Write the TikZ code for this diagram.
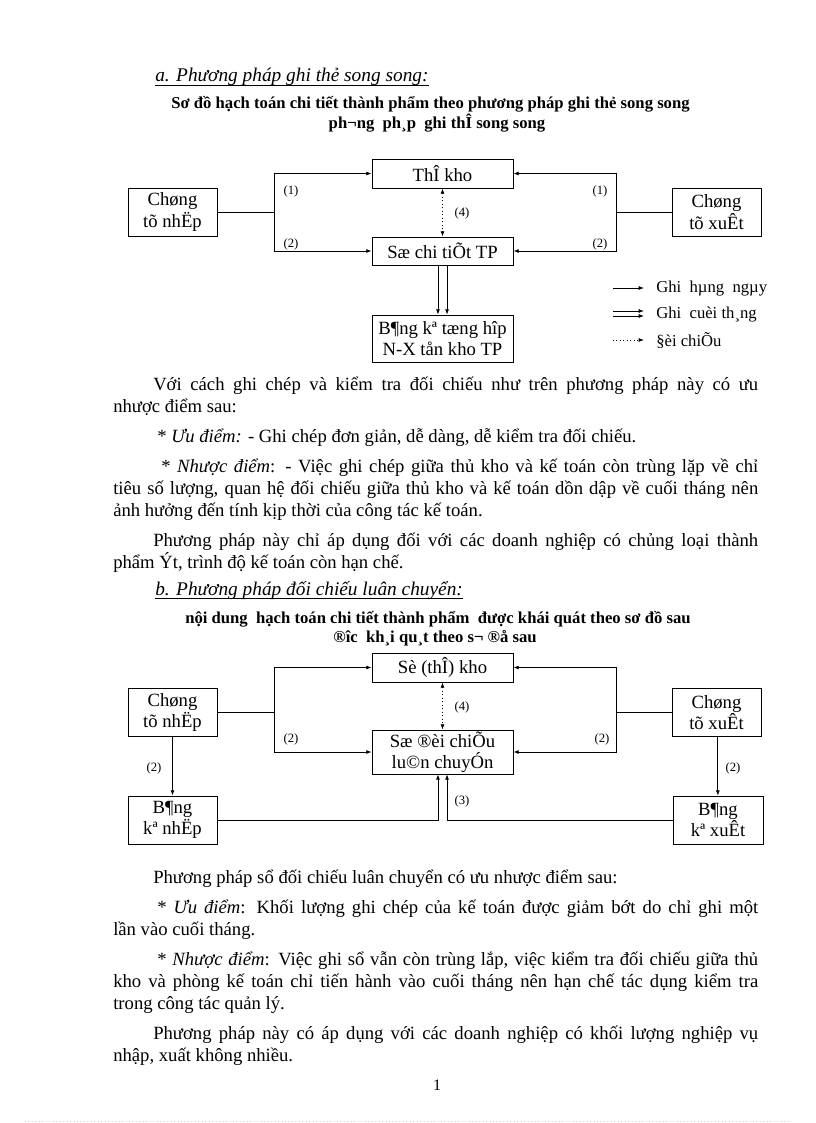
\documentclass[tikz,border=0pt]{standalone}
\usepackage{fontspec}
\setmainfont{Liberation Serif}
\usetikzlibrary{arrows.meta}
\tikzset{
    % boxes of the two schemes
    box/.style={draw, line width=0.6pt, inner sep=0pt, align=center, font=\fontsize{14}{16}\selectfont},
    wbox/.style={box, minimum width=105.75pt},
    sbox/.style={box, minimum width=66.75pt, minimum height=36pt},
    % connectors
    link/.style={line width=0.6pt},
    arr/.style={link, -{Latex[length=4pt, width=3pt]}},
    darr/.style={link, dotted, {Latex[length=4pt, width=3pt]}-{Latex[length=4pt, width=3pt]}},
    dotarr/.style={link, dotted, -{Latex[length=4pt, width=3pt]}},
    num/.style={font=\fontsize{9.5}{11}\selectfont, inner sep=0pt},
    legend/.style={font=\fontsize{12.5}{14}\selectfont, anchor=west, inner sep=0pt},
    % text of the page
    para/.style={anchor=base west, inner sep=0pt, text width=483.75pt, align=justify, font=\fontsize{14}{16.5}\selectfont},
    caption/.style={anchor=base, inner sep=0pt, font=\bfseries\fontsize{12.5}{14}\selectfont},
    heading/.style={anchor=base west, inner sep=0pt, font=\itshape\fontsize{14.5}{16}\selectfont}
}

\begin{document}
\begin{tikzpicture}[x=0.75pt, y=-0.75pt]
    \useasboundingbox[fill=white] (0,0) rectangle (816,1123);

    % Heading a
    \node[heading] (heada) at (155,82) {a. Phương pháp ghi thẻ song song:};
    \draw[line width=0.6pt] ([yshift=-2.5pt]heada.base west) -- ([yshift=-2.5pt]heada.base east);
    \node[caption] (capa1) at (430.5,109) {Sơ đồ hạch toán chi tiết thành phẩm theo phương pháp ghi thẻ song song};
    \node[caption] (capa2) at (437,129) {ph¬ng\ \ ph¸p\ \ ghi thÎ song song};

    % Scheme a
    \node[wbox, minimum height=21.75pt] (kho) at (442.5,173.5) {ThÎ kho};
    \node[wbox, minimum height=21pt] (soct) at (442.5,251) {Sæ chi tiÕt TP};
    \node[wbox, minimum height=35.25pt] (bangth) at (442.5,338.5) {B¶ng kª tæng hîp\\N-X tån kho TP};
    \node[sbox] (ctn) at (172.5,212) {Chøng\\tõ nhËp};
    \node[sbox] (ctx) at (716.5,212) {Chøng\\tõ xuÊt};
    \coordinate (jn) at (274,212);
    \coordinate (jx) at (616,212);
    \draw[link] (ctn) -- (jn);
    \draw[arr] (jn) |- (kho);
    \draw[arr] (jn) |- (soct);
    \draw[link] (ctx) -- (jx);
    \draw[arr] (jx) |- (kho);
    \draw[arr] (jx) |- (soct);
    \draw[darr] (kho) -- (soct);
    \draw[arr] ([xshift=-3.4pt]soct.south) -- ([xshift=-3.4pt]bangth.north);
    \draw[arr] ([xshift=3.4pt]soct.south) -- ([xshift=3.4pt]bangth.north);
    \node[num] (na1) at (291,191) {(1)};
    \node[num] (na2) at (291,244) {(2)};
    \node[num] (na3) at (600,191) {(1)};
    \node[num] (na4) at (600,244) {(2)};
    \node[num] (na5) at (462,213) {(4)};

    % Legend
    \coordinate (l1a) at (613,288);   \coordinate (l1b) at (644,288);
    \coordinate (l2a) at (613,311);   \coordinate (l2b) at (644,311);
    \coordinate (l3a) at (613,316);   \coordinate (l3b) at (644,316);
    \coordinate (l4a) at (613,340);   \coordinate (l4b) at (644,340);
    \draw[arr] (l1a) -- (l1b);
    \draw[arr] (l2a) -- (l2b);
    \draw[arr] (l3a) -- (l3b);
    \draw[dotarr] (l4a) -- (l4b);
    \node[legend] (lg1) at (656,289) {Ghi\ \ hµng\ \ ngµy};
    \node[legend] (lg2) at (656,315) {Ghi\ \ cuèi\ th¸ng};
    \node[legend] (lg3) at (656,341) {§èi chiÕu};

    % Text after scheme a
    \node[para] (p1) at (113,390) {\hspace*{30pt}Với cách ghi chép và kiểm tra đối chiếu như trên phương pháp này có ưu\linebreak nhược điểm sau:};
    \node[para] (p2) at (113,442) {\hspace*{33pt}* \textit{Ưu điểm:} - Ghi chép đơn giản,\ dễ dàng, dễ kiểm tra đối chiếu.};
    \node[para] (p3) at (113,472) {\hspace*{36pt}* \textit{Nhược điểm}: - Việc ghi chép giữa thủ kho và kế toán còn trùng lặp về chỉ\linebreak tiêu số lượng, quan hệ đối chiếu giữa thủ kho và kế toán dồn dập về cuối tháng nên\linebreak ảnh hưởng đến tính kịp thời của công tác kế toán.};
    \node[para] (p4) at (113,546) {\hspace*{30pt}Phương pháp này chỉ áp dụng đối với các doanh nghiệp có chủng loại thành\linebreak phẩm Ýt, trình độ kế toán còn hạn chế.};

    % Heading b
    \node[heading] (headb) at (155,595) {b. Phương pháp đối chiếu luân chuyển:};
    \draw[line width=0.6pt] ([yshift=-2.5pt]headb.base west) -- ([yshift=-2.5pt]headb.base east);
    \node[caption] (capb1) at (438,623) {nội dung\ \ hạch toán chi tiết thành phẩm\ \ được khái quát theo sơ đồ sau};
    \node[caption] (capb2) at (435,642) {®îc\ \ kh¸i qu¸t theo s¬ ®å sau};

    % Scheme b
    \node[wbox, minimum height=21.75pt] (sokho) at (442.5,667.5) {Sè (thÎ) kho};
    \node[wbox, minimum height=33pt] (sodc) at (442.5,752) {Sæ ®èi chiÕu\\lu©n\ chuyÓn};
    \node[sbox] (ctn2) at (172.5,712.5) {Chøng\\tõ nhËp};
    \node[sbox] (ctx2) at (716.5,712.5) {Chøng\\tõ xuÊt};
    \node[sbox] (bkn) at (172.5,820) {B¶ng\\kª nhËp};
    \node[sbox, minimum width=67.5pt] (bkx) at (718,820) {B¶ng\\kª xuÊt};
    \coordinate (jn2) at (274,712.5);
    \coordinate (jx2) at (616,712.5);
    \draw[link] (ctn2) -- (jn2);
    \draw[arr] (jn2) |- (sokho);
    \draw[arr] (jn2) |- (sodc);
    \draw[link] (ctx2) -- (jx2);
    \draw[arr] (jx2) |- (sokho);
    \draw[arr] (jx2) |- (sodc);
    \draw[darr] (sokho) -- (sodc);
    \draw[arr] (ctn2) -- (bkn);
    \draw[arr] ([xshift=1pt]ctx2.south) -- ([xshift=1pt]bkx.north -| ctx2.south);
    \draw[arr] (bkn) -| ([xshift=-3.4pt]sodc.south);
    \draw[arr] (bkx) -| ([xshift=3.4pt]sodc.south);
    \node[num] (nb1) at (291,739) {(2)};
    \node[num] (nb2) at (602,739) {(2)};
    \node[num] (nb3) at (154,768) {(2)};
    \node[num] (nb4) at (733,768) {(2)};
    \node[num] (nb5) at (462,707) {(4)};
    \node[num] (nb6) at (462,801) {(3)};

    % Text after scheme b
    \node[para] (p5) at (113,883) {\hspace*{30pt}Phương pháp sổ đối chiếu luân chuyển có ưu nhược điểm sau:};
    \node[para] (p6) at (113,913) {\hspace*{33pt}* \textit{Ưu điểm}: Khối lượng ghi chép của kế toán được giảm bớt do chỉ ghi một\linebreak lần vào cuối tháng.};
    \node[para] (p7) at (113,965) {\hspace*{33pt}* \textit{Nhược điểm}: Việc ghi sổ vẫn còn trùng lắp, việc kiểm tra đối chiếu giữa thủ\linebreak kho và phòng kế toán chỉ tiến hành vào cuối tháng nên hạn chế tác dụng kiểm tra\linebreak trong công tác quản lý.};
    \node[para] (p8) at (113,1039) {\hspace*{30pt}Phương pháp này có áp dụng với các doanh nghiệp có khối lượng nghiệp vụ\linebreak nhập, xuất không nhiều.};

    % Page number and foot line
    \node[anchor=base, inner sep=0pt, font=\fontsize{12}{14}\selectfont] (page) at (437,1090) {1};
    \draw[gray!40, dotted, line width=0.6pt] (25,1121) -- (790,1121);
\end{tikzpicture}
\end{document}
